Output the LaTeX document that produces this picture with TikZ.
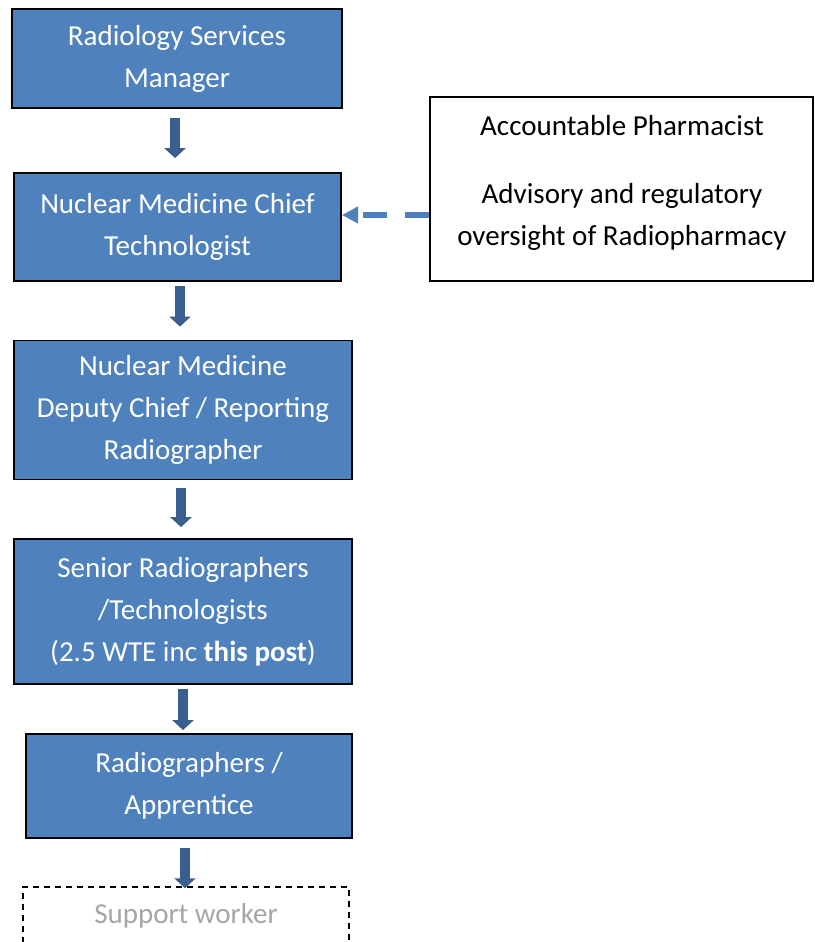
\documentclass[tikz,border=0pt]{standalone}
\usepackage{fontspec}
\setmainfont{Carlito}
\usetikzlibrary{arrows.meta}
\definecolor{boxblue}{HTML}{4F81BD}
\definecolor{arrblue}{HTML}{3A5F8F}
\definecolor{dashblue}{HTML}{4F81BD}
\definecolor{greytxt}{HTML}{A6A6A6}
\begin{document}
\begin{tikzpicture}[x=1pt,y=-1pt,
  bluebox/.style={draw=black, line width=1.8pt, fill=boxblue, text=white,
    font=\fontsize{29}{42}\selectfont, align=center, inner sep=0pt},
  whitebox/.style={draw=black, line width=1.5pt, fill=white, inner sep=0pt},
  plaintext/.style={font=\fontsize{29}{42}\selectfont, align=center, inner sep=0pt},
  blockarrow/.style={draw=arrblue, line width=10pt, -{Triangle[width=21pt,length=10pt]}},
  dasharrow/.style={draw=dashblue, line width=6.5pt, dash pattern=on 24pt off 18pt,
    -{Triangle[width=16pt,length=16pt]}}
]
\useasboundingbox (0,0) rectangle (814,942);
\clip (0,0) rectangle (814,942);
\fill[white] (0,0) rectangle (814,942);

\node[bluebox, minimum width=330pt, minimum height=99pt] (b1) at (177,58.5) {Radiology Services\\Manager};
\node[bluebox, minimum width=327pt, minimum height=108pt] (b2) at (177.5,227) {Nuclear Medicine Chief\\Technologist};
\node[bluebox, minimum width=338pt, minimum height=139pt] (b3) at (183,410) {Nuclear Medicine\\Deputy Chief / Reporting\\Radiographer};
\node[bluebox, minimum width=338pt, minimum height=145pt] (b4) at (183,611.5) {Senior Radiographers\\/Technologists\\(2.5 WTE inc \textbf{this post})};
\node[bluebox, minimum width=326pt, minimum height=104pt] (b5) at (189,786) {Radiographers /\\Apprentice};

\node[draw=black, line width=1.5pt, dash pattern=on 6pt off 5pt, inner sep=0pt,
  minimum width=326pt, minimum height=90pt] (sw) at (186,932) {};
\node[plaintext, text=greytxt] (swt) at (186,916) {Support worker};

\node[whitebox, minimum width=383pt, minimum height=184pt] (ph) at (621.5,189) {};
\node[plaintext] (pht) at (622,183) {Accountable Pharmacist\\[26pt]Advisory and regulatory\\oversight of Radiopharmacy};

\coordinate (b2d) at (341,215);
\draw[dasharrow] (ph.west |- b2d) -- ([xshift=1pt]b2d);

\draw[blockarrow] ([xshift=-2pt,yshift=-9pt]b1.south) -- ([xshift=-2.5pt,yshift=14pt]b2.north);
\draw[blockarrow] ([xshift=2.5pt,yshift=-4pt]b2.south) -- ([xshift=-3pt,yshift=13pt]b3.north);
\draw[blockarrow] ([xshift=-2pt,yshift=-8pt]b3.south) -- ([xshift=-2pt,yshift=11pt]b4.north);
\draw[blockarrow] ([yshift=-4pt]b4.south) -- ([xshift=-6pt,yshift=3pt]b5.north);
\draw[blockarrow] ([xshift=-4pt,yshift=-9pt]b5.south) -- ([xshift=-1pt,yshift=-2pt]sw.north);
\end{tikzpicture}
\end{document}
